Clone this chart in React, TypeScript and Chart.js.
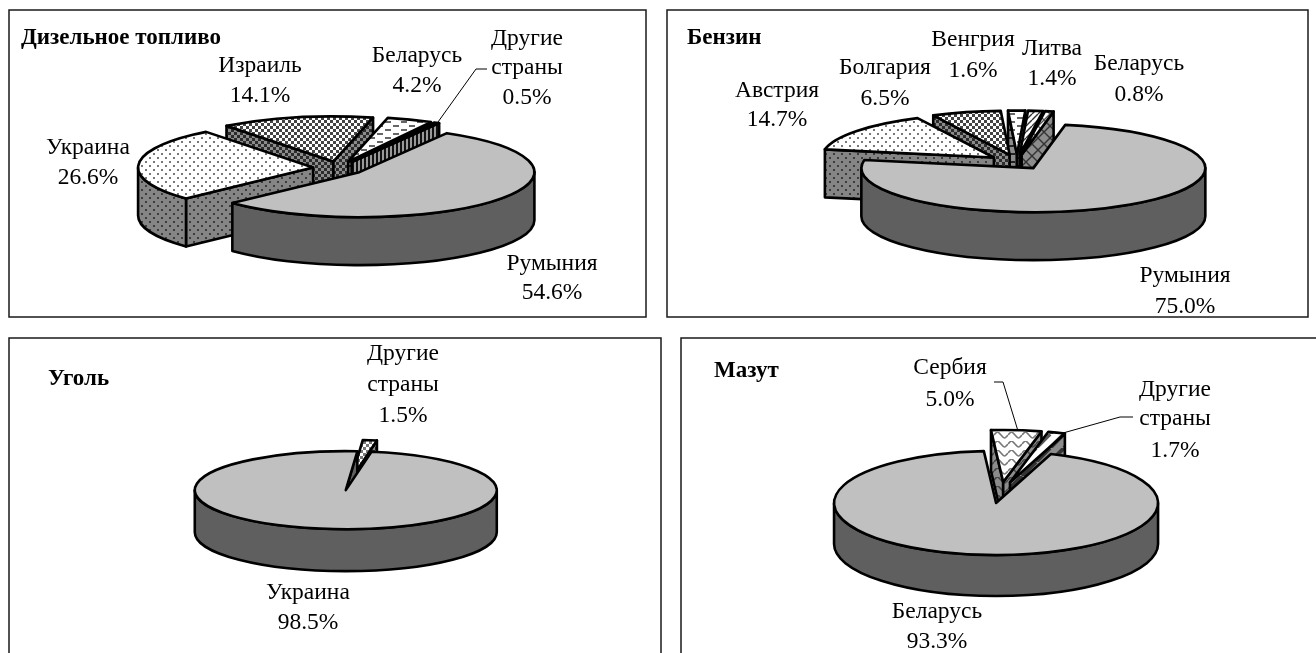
import React, { useEffect, useRef } from "react";
import { Chart, registerables } from "chart.js";

Chart.register(...registerables);

const dieselTitle = "Дизельное топливо";
const dieselLabels = ["Румыния", "Украина", "Израиль", "Беларусь", "Другие страны"];
const dieselValues = [54.6, 26.6, 14.1, 4.2, 0.5];

const petrolTitle = "Бензин";
const petrolLabels = ["Румыния", "Австрия", "Болгария", "Венгрия", "Литва", "Беларусь"];
const petrolValues = [75.0, 14.7, 6.5, 1.6, 1.4, 0.8];

const coalTitle = "Уголь";
const coalLabels = ["Украина", "Другие страны"];
const coalValues = [98.5, 1.5];

const mazutTitle = "Мазут";
const mazutLabels = ["Беларусь", "Сербия", "Другие страны"];
const mazutValues = [93.3, 5.0, 1.7];

type TileKind = "solid" | "dots" | "checker" | "dashes" | "vstripes" | "diag" | "cross" | "wave" | "band";

function tile(kind: TileKind, bg: string, fg: string): CanvasPattern | string {
  if (kind === "solid") return bg;
  const sizes: Record<string, [number, number]> = {
    dots: [8, 8], checker: [6, 6], dashes: [16, 8], vstripes: [4, 4], diag: [6, 6], cross: [12, 12], wave: [14, 9], band: [14, 14],
  };
  const [w, h] = sizes[kind];
  const c = document.createElement("canvas");
  c.width = w;
  c.height = h;
  const g = c.getContext("2d")!;
  g.fillStyle = bg;
  g.fillRect(0, 0, w, h);
  g.fillStyle = fg;
  g.strokeStyle = fg;
  if (kind === "dots") {
    g.fillRect(1, 1, 2, 2);
    g.fillRect(5, 5, 2, 2);
  } else if (kind === "checker") {
    g.fillRect(0, 0, 3, 3);
    g.fillRect(3, 3, 3, 3);
  } else if (kind === "dashes") {
    g.fillRect(1, 1, 6, 2);
    g.fillRect(9, 5, 6, 2);
  } else if (kind === "vstripes") {
    g.fillRect(0, 0, 2, 4);
  } else if (kind === "diag" || kind === "band" || kind === "cross") {
    g.lineWidth = kind === "band" ? 4 : 1.4;
    const line = (x0: number, y0: number, x1: number, y1: number) => {
      g.beginPath();
      g.moveTo(x0, y0);
      g.lineTo(x1, y1);
      g.stroke();
    };
    for (const o of [-w, 0, w]) line(o, h, o + w, 0);
    if (kind === "cross") for (const o of [-w, 0, w]) line(o, 0, o + w, h);
  } else if (kind === "wave") {
    g.lineWidth = 1.6;
    g.beginPath();
    g.moveTo(0, 3);
    g.bezierCurveTo(3.5, -1, 3.5, -1, 7, 3);
    g.bezierCurveTo(10.5, 7, 10.5, 7, 14, 3);
    g.stroke();
  }
  return g.createPattern(c, "repeat")!;
}

type Panel = {
  title: string;
  titleX: number;
  titleY: number;
  labels: string[];
  values: number[];
  rect: [number, number, number, number];
  cx: number;
  cy: number;
  rx: number;
  ry: number;
  depth: number;
  explode: number;
  rotation: number;
  tops: [TileKind, string, string][];
  walls: [TileKind, string, string][];
  labelPos: [number, number[]][];
  leaders: [number, number][][];
};

const GREY = "#c0c0c0";
const DARK = "#5f5f5f";
const panels: Panel[] = [
  {
    title: dieselTitle, titleX: 21, titleY: 44,
    labels: dieselLabels, values: dieselValues,
    rect: [9, 10, 637, 307],
    cx: 339, cy: 168, rx: 175, ry: 45, depth: 48, explode: 26, rotation: 30,
    tops: [["solid", GREY, ""], ["dots", "#fff", "#777"], ["checker", "#fff", "#444"], ["dashes", "#fff", "#666"], ["vstripes", "#fff", "#000"]],
    walls: [["solid", DARK, ""], ["dots", "#858585", "#3c3c3c"], ["checker", "#8c8c8c", "#2c2c2c"], ["dashes", "#8c8c8c", "#222"], ["vstripes", "#999", "#111"]],
    labelPos: [[552, [270, 299]], [88, [154, 184]], [260, [72, 102]], [417, [62, 92]], [527, [45, 74, 104]]],
    leaders: [[[438, 122], [476, 69], [487, 69]]],
  },
  {
    title: petrolTitle, titleX: 687, titleY: 44,
    labels: petrolLabels, values: petrolValues,
    rect: [667, 10, 641, 307],
    cx: 1017, cy: 162, rx: 172, ry: 44, depth: 48, explode: 29, rotation: 10.7,
    tops: [["solid", GREY, ""], ["dots", "#fff", "#777"], ["checker", "#fff", "#444"], ["dashes", "#fff", "#666"], ["diag", "#fff", "#333"], ["cross", "#fff", "#555"]],
    walls: [["solid", DARK, ""], ["dots", "#858585", "#3c3c3c"], ["checker", "#8c8c8c", "#2c2c2c"], ["dashes", "#8c8c8c", "#222"], ["diag", "#8c8c8c", "#222"], ["cross", "#8c8c8c", "#333"]],
    labelPos: [[1185, [282, 313]], [777, [97, 126]], [885, [74, 105]], [973, [46, 77]], [1052, [55, 85]], [1139, [70, 101]]],
    leaders: [],
  },
  {
    title: coalTitle, titleX: 48, titleY: 385,
    labels: coalLabels, values: coalValues,
    rect: [9, 338, 652, 330],
    cx: 348.5, cy: 484.5, rx: 151, ry: 39, depth: 42, explode: 22, rotation: 9.8,
    tops: [["solid", GREY, ""], ["checker", "#fff", "#777"]],
    walls: [["solid", DARK, ""], ["checker", "#8c8c8c", "#2c2c2c"]],
    labelPos: [[308, [599, 629]], [403, [360, 391, 422]]],
    leaders: [],
  },
  {
    title: mazutTitle, titleX: 714, titleY: 377,
    labels: mazutLabels, values: mazutValues,
    rect: [681, 338, 640, 330],
    cx: 1000.5, cy: 492.5, rx: 162, ry: 52, depth: 41, explode: 33, rotation: 19.8,
    tops: [["solid", GREY, ""], ["wave", "#fff", "#777"], ["band", "#fff", "#555"]],
    walls: [["solid", DARK, ""], ["wave", "#8c8c8c", "#444"], ["band", "#8c8c8c", "#333"]],
    labelPos: [[937, [618, 648]], [950, [374, 406]], [1175, [396, 425, 457]]],
    leaders: [[[1018, 431], [1003, 382], [994, 382]], [[1063, 433], [1120, 417], [1133, 417]]],
  },
];

const SERIF = '"Liberation Serif", "Times New Roman", serif';

function makePlugin(p: Panel) {
  return {
    id: "pie3d",
    beforeDatasetsDraw(chart: any) {
      const ctx: CanvasRenderingContext2D = chart.ctx;
      const meta = chart.getDatasetMeta(0);
      ctx.save();
      ctx.translate(-p.rect[0] + 2, -p.rect[1] + 2);

      // frame
      ctx.strokeStyle = "#1a1a1a";
      ctx.lineWidth = 1.5;
      ctx.strokeRect(p.rect[0], p.rect[1], p.rect[2], p.rect[3]);

      ctx.lineJoin = "round";
      const order = meta.data
        .map((arc: any, i: number) => ({ arc, i, s: Math.sin((arc.startAngle + arc.endAngle) / 2) }))
        .sort((a: any, b: any) => a.s - b.s);

      for (const { arc, i } of order) {
        const s: number = arc.startAngle;
        const e: number = arc.endAngle;
        const m = (s + e) / 2;
        const x0 = p.cx + p.explode * Math.cos(m);
        const y0 = p.cy + (p.explode * p.ry / p.rx) * Math.sin(m);
        const pt = (t: number): [number, number] => [x0 + p.rx * Math.cos(t), y0 + p.ry * Math.sin(t)];
        const [wk, wb, wf] = p.walls[i];
        const wallFill = tile(wk, wb, wf);
        const paint = (fill: any) => {
          ctx.fillStyle = fill;
          ctx.fill();
          ctx.strokeStyle = "#000";
          ctx.lineWidth = 2.6;
          ctx.stroke();
        };
        const radial = (t: number) => {
          const [x, y] = pt(t);
          ctx.beginPath();
          ctx.moveTo(x0, y0);
          ctx.lineTo(x, y);
          ctx.lineTo(x, y + p.depth);
          ctx.lineTo(x0, y0 + p.depth);
          ctx.closePath();
          paint(wallFill);
        };
        // radial cut faces that look towards the viewer
        if (Math.cos(s) < 0) radial(s);
        if (Math.cos(e) > 0) radial(e);
        // curved outer wall, the part on the front half of the ellipse
        for (let k = -1; k <= 2; k++) {
          const a = Math.max(s, 2 * Math.PI * k);
          const b = Math.min(e, 2 * Math.PI * k + Math.PI);
          if (b <= a) continue;
          const [xa, ya] = pt(a);
          ctx.beginPath();
          ctx.moveTo(xa, ya);
          ctx.ellipse(x0, y0, p.rx, p.ry, 0, a, b, false);
          ctx.ellipse(x0, y0 + p.depth, p.rx, p.ry, 0, b, a, true);
          ctx.closePath();
          paint(wallFill);
        }
        // top face
        ctx.beginPath();
        ctx.moveTo(x0, y0);
        ctx.ellipse(x0, y0, p.rx, p.ry, 0, s, e, false);
        ctx.closePath();
        paint(arc.options.backgroundColor);
      }

      // leader lines
      ctx.strokeStyle = "#000";
      ctx.lineWidth = 1;
      for (const l of p.leaders) {
        ctx.beginPath();
        l.forEach(([x, y], j) => (j ? ctx.lineTo(x, y) : ctx.moveTo(x, y)));
        ctx.stroke();
      }

      // labels
      ctx.fillStyle = "#000";
      ctx.textAlign = "center";
      ctx.textBaseline = "alphabetic";
      ctx.font = `23.5px ${SERIF}`;
      p.labels.forEach((label, i) => {
        const [x, ys] = p.labelPos[i];
        const lines = [...label.split(" "), p.values[i].toFixed(1) + "%"];
        lines.forEach((t, j) => ctx.fillText(t, x, ys[j]));
      });
      ctx.textAlign = "left";
      ctx.font = `bold 23px ${SERIF}`;
      ctx.fillText(p.title, p.titleX, p.titleY);
      ctx.restore();
      return false;
    },
  };
}

function PieCanvas({ panel }: { panel: Panel }) {
  const ref = useRef<HTMLCanvasElement>(null);
  useEffect(() => {
    const chart = new Chart(ref.current!, {
      type: "pie",
      data: {
        labels: panel.labels,
        datasets: [{
          data: panel.values,
          backgroundColor: panel.tops.map(([k, b, f]) => tile(k, b, f)) as any,
        }],
      },
      options: {
        responsive: false,
        animation: false,
        rotation: panel.rotation,
        plugins: { legend: { display: false }, tooltip: { enabled: false }, title: { display: false } },
      },
      plugins: [makePlugin(panel) as any],
    });
    return () => chart.destroy();
  }, [panel]);
  const [l, t, w, h] = panel.rect;
  return (
    <canvas
      ref={ref}
      width={w + 4}
      height={h + 4}
      style={{ position: "absolute", left: l - 2, top: t - 2, width: w + 4, height: h + 4 }}
    />
  );
}

export default function App() {
  return (
    <div style={{ position: "fixed", left: 0, top: 0, width: 1316, height: 653, overflow: "hidden", background: "#fff" }}>
      {panels.map((p) => (
        <PieCanvas key={p.title} panel={p} />
      ))}
    </div>
  );
}
